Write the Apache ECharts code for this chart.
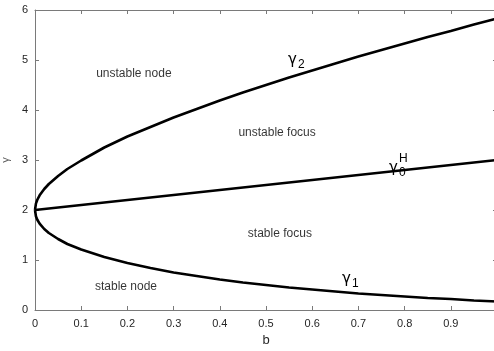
<!DOCTYPE html>
<html><head><meta charset="utf-8">
<script src="https://cdn.jsdelivr.net/npm/echarts@6/dist/echarts.min.js"></script>
<style>html,body{margin:0;padding:0;overflow:hidden;background:#fff;width:494px;height:351px}#c{width:498px;height:351px}</style>
</head><body><div id="c"></div>
<script>
const bValues = [0, 0.002, 0.005, 0.01, 0.02, 0.03, 0.05, 0.07, 0.1, 0.15, 0.2, 0.25, 0.3, 0.35, 0.4, 0.45, 0.5, 0.55, 0.6, 0.65, 0.7, 0.75, 0.8, 0.85, 0.9, 0.95, 1.0];
const gamma2 = [2, 2.128, 2.205, 2.293, 2.42, 2.52, 2.68, 2.82, 2.99, 3.25, 3.47, 3.66, 3.85, 4.02, 4.19, 4.35, 4.5, 4.65, 4.79, 4.93, 5.07, 5.20, 5.33, 5.46, 5.58, 5.71, 5.83];
const gamma1 = [2, 1.876, 1.805, 1.727, 1.62, 1.54, 1.42, 1.32, 1.21, 1.06, 0.94, 0.84, 0.75, 0.68, 0.61, 0.55, 0.50, 0.45, 0.41, 0.37, 0.33, 0.30, 0.27, 0.24, 0.22, 0.19, 0.17];
const hB = [0, 1];
const hGamma = [2, 3];
const regionLabels = ['unstable node', 'unstable focus', 'stable focus', 'stable node'];
const regionPos = [[0.214, 4.73], [0.524, 3.55], [0.530, 1.52], [0.197, 0.47]];

const chart = echarts.init(document.getElementById('c'), null, {renderer: 'canvas'});
const pairs = (xs, ys) => xs.map((x, i) => [x, ys[i]]);
const axisColor = '#7a7a7a';
const labelColor = '#262626';
const font = 'Liberation Sans, Arial, Helvetica, sans-serif';
const lineSeries = (data) => ({type: 'line', data, showSymbol: false, symbol: 'none', lineStyle: {color: '#000', width: 2.6}, animation: false, clip: true});
const axisLineCfg = {show: true, onZero: false, lineStyle: {color: axisColor, width: 1}};
const tickCfg = {show: true, inside: true, length: 4, lineStyle: {color: axisColor}};

const option = {
  animation: false,
  grid: {left: 35, right: 1, top: 10, bottom: 41, containLabel: false, outerBoundsMode: 'none'},
  xAxis: [
    {type: 'value', min: 0, max: 1, interval: 0.1, position: 'bottom',
     name: 'b', nameLocation: 'middle', nameGap: 24, nameTextStyle: {fontFamily: font, fontSize: 13, color: labelColor},
     axisLine: axisLineCfg, axisTick: tickCfg,
     axisLabel: {fontFamily: font, fontSize: 11, color: labelColor, margin: 8, showMaxLabel: false,
       formatter: v => (v === 0 ? '0' : String(Math.round(v * 10) / 10))},
     splitLine: {show: false}},
    {type: 'value', min: 0, max: 1, interval: 0.1, position: 'top',
     axisLine: axisLineCfg, axisTick: tickCfg,
     axisLabel: {show: false}, splitLine: {show: false}}
  ],
  yAxis: [
    {type: 'value', min: 0, max: 6, interval: 1, position: 'left',
     name: 'γ', nameLocation: 'middle', nameGap: 24, nameRotate: 90,
     nameTextStyle: {fontFamily: font, fontSize: 11, color: '#555'},
     axisLine: axisLineCfg, axisTick: tickCfg,
     axisLabel: {fontFamily: font, fontSize: 11, color: labelColor, margin: 7},
     splitLine: {show: false}},
    {type: 'value', min: 0, max: 6, interval: 1, position: 'right',
     axisLine: axisLineCfg, axisTick: tickCfg,
     axisLabel: {show: false}, splitLine: {show: false}}
  ],
  series: [
    lineSeries(pairs(bValues, gamma2)),
    lineSeries(pairs(bValues, gamma1)),
    lineSeries(pairs(hB, hGamma)),
    {type: 'scatter', symbolSize: 0, data: regionPos.map((p, i) => ({value: p, name: regionLabels[i]})),
     label: {show: true, position: 'inside', formatter: p => p.name, fontFamily: font, fontSize: 12, color: '#000'},
     silent: true}
  ]
};
chart.setOption(option);

function gLabel(x, y, sub, sup) {
  const els = [{type: 'text', left: x, top: y, style: {text: 'γ', font: '15px "DejaVu Sans", sans-serif', fill: '#000'}}];
  if (sub) els.push({type: 'text', left: x + 10, top: y + 6, style: {text: sub, font: '12px ' + font, fill: '#000'}});
  if (sup) els.push({type: 'text', left: x + 10, top: y - 8, style: {text: sup, font: '12px ' + font, fill: '#000'}});
  return els;
}
chart.setOption({graphic: [].concat(gLabel(288, 53, '2'), gLabel(389, 161, '0', 'H'), gLabel(342, 272, '1'))});
</script></body></html>
